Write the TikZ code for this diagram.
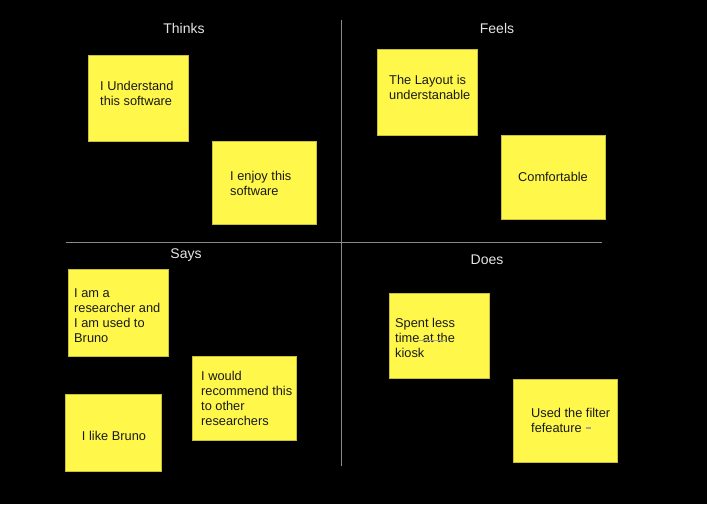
\documentclass[tikz,border=0pt]{standalone}
\usepackage{fontspec}
\setmainfont{Liberation Sans}
\definecolor{stickyfill}{HTML}{FFF84A}
\definecolor{stickyedge}{HTML}{C8C03A}
\definecolor{divider}{HTML}{8A8A8A}
\definecolor{headtext}{HTML}{E6E6E6}
\definecolor{stickytext}{HTML}{1A1A1A}
\definecolor{faintmark}{HTML}{A8A690}
\begin{document}
\begin{tikzpicture}[x=1pt,y=-1pt,
  sticky/.style={draw=stickyedge, line width=0.6pt, fill=stickyfill, anchor=north west, inner sep=0pt},
  note/.style={text=stickytext, font=\fontsize{12.8}{15}\selectfont, align=left, inner sep=0pt, anchor=west},
  notec/.style={note, anchor=center, align=center},
  head/.style={text=headtext, font=\fontsize{14}{16}\selectfont, inner sep=0pt},
  divline/.style={draw=divider, line width=0.6pt}]
\fill[black] (0,0) rectangle (707,504);
\useasboundingbox (0,0) rectangle (707,504);
% dividers
\coordinate (vtop) at (341,20);
\coordinate (vbot) at (341,466);
\coordinate (hl) at (66,242);
\coordinate (hr) at (602,242);
\draw[divline] (vtop) -- (vbot);
\draw[divline] (hl) -- (hr);
% headings
\node[head] (thinks) at (184,28) {Thinks};
\node[head] (feels) at (497,28) {Feels};
\node[head] (says) at (186,255) {Says};
\node[head] (does) at (487,260) {Does};
% Thinks
\node[sticky, minimum width=100, minimum height=86] (s1) at (88,55) {};
\node[note] (t1) at (100,93.5) {I Understand\\this software};
\node[sticky, minimum width=104, minimum height=83] (s2) at (212,141) {};
\node[note] (t2) at (230,183.5) {I enjoy this\\software};
% Feels
\node[sticky, minimum width=100, minimum height=86] (s3) at (377,49) {};
\node[note] (t3) at (389,87.5) {The Layout is\\understanable};
\node[sticky, minimum width=104, minimum height=84] (s4) at (501,135) {};
\node[notec] (t4) at (553,177) {Comfortable};
% Says
\node[sticky, minimum width=100, minimum height=87] (s5) at (68,269) {};
\node[note] (t5) at (74,315.5) {I am a\\researcher and\\I am used to\\Bruno};
\node[sticky, minimum width=104, minimum height=84] (s6) at (192,356) {};
\node[note] (t6) at (201,398) {I would\\recommend this\\to other\\researchers};
\node[sticky, minimum width=96, minimum height=77] (s7) at (65,394) {};
\node[notec] (t7) at (114,436) {I like Bruno};
% Does
\node[sticky, minimum width=100, minimum height=85] (s8) at (389,293) {};
\node[note] (t8) at (395,338) {Spent less\\time at the\\kiosk};
\coordinate (m1a) at (419,340);
\coordinate (m1b) at (446,340);
\draw[faintmark, line width=0.5pt] (m1a) -- (m1b);
\node[sticky, minimum width=104, minimum height=83] (s9) at (513,379) {};
\node[note] (t9) at (531,420.5) {Used the filter\\fefeature};
\coordinate (m2a) at (586,428);
\coordinate (m2b) at (591,428);
\draw[faintmark, line width=1.2pt] (m2a) -- (m2b);
\end{tikzpicture}
\end{document}
